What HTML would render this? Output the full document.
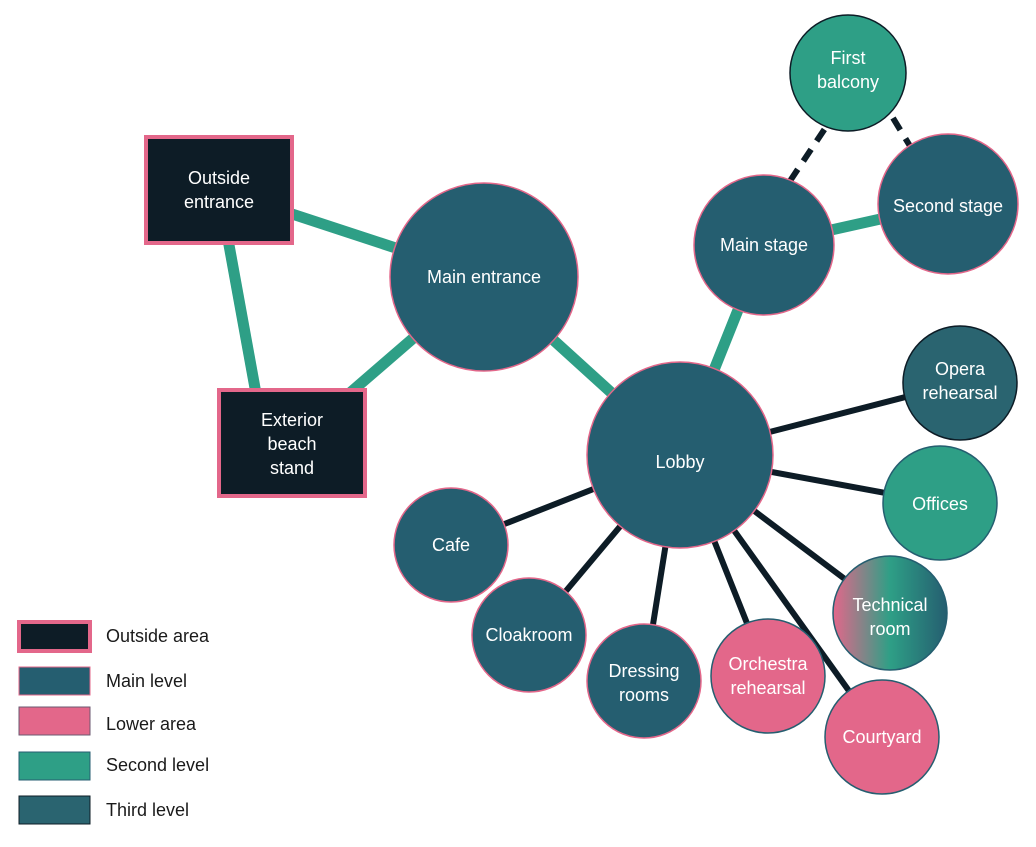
<!DOCTYPE html>
<html><head><meta charset="utf-8"><style>
html,body{margin:0;padding:0;background:#fff;}
svg text{font-family:"Liberation Sans",sans-serif;}
</style></head><body>
<svg width="1036" height="842" viewBox="0 0 1036 842" xmlns="http://www.w3.org/2000/svg">
<defs>
<linearGradient id="tg" x1="0" x2="1" y1="0" y2="0">
<stop offset="0" stop-color="#e3678a"/><stop offset="0.5" stop-color="#2e9f86"/><stop offset="1" stop-color="#255e70"/>
</linearGradient>
</defs>
<g stroke="#2e9f86" stroke-width="11" stroke-linecap="butt">
<line x1="219" y1="190" x2="484" y2="277"/>
<line x1="219" y1="190" x2="265" y2="443"/>
<line x1="292" y1="443" x2="484" y2="277"/>
<line x1="484" y1="277" x2="680" y2="455"/>
<line x1="680" y1="455" x2="764" y2="245"/>
<line x1="764" y1="245" x2="948" y2="204"/>
</g>
<g stroke="#0d1c26" stroke-width="6" stroke-dasharray="14,10">
<line x1="790" y1="181" x2="826" y2="127"/>
<line x1="893" y1="118" x2="910" y2="146"/>
</g>
<g stroke="#0d1c26" stroke-width="6">
<line x1="680" y1="455" x2="960" y2="383"/>
<line x1="680" y1="455" x2="940" y2="503"/>
<line x1="680" y1="455" x2="890" y2="613"/>
<line x1="680" y1="455" x2="882" y2="737"/>
<line x1="680" y1="455" x2="768" y2="676"/>
<line x1="680" y1="455" x2="644" y2="681"/>
<line x1="680" y1="455" x2="529" y2="635"/>
<line x1="680" y1="455" x2="451" y2="545"/>
</g>
<rect x="146" y="137" width="146" height="106" fill="#0d1c26" stroke="#e3678a" stroke-width="4"/>
<rect x="219" y="390" width="146" height="106" fill="#0d1c26" stroke="#e3678a" stroke-width="4"/>
<g stroke="#e3678a" stroke-width="1.5" fill="#255e70">
<circle cx="484" cy="277" r="94"/>
<circle cx="680" cy="455" r="93"/>
<circle cx="764" cy="245" r="70"/>
<circle cx="948" cy="204" r="70"/>
<circle cx="451" cy="545" r="57"/>
<circle cx="529" cy="635" r="57"/>
<circle cx="644" cy="681" r="57"/>
</g>
<g stroke="#0d1c26" stroke-width="1.5">
<circle cx="848" cy="73" r="58" fill="#2e9f86"/>
<circle cx="960" cy="383" r="57" fill="#2a6470"/>
<circle cx="940" cy="503" r="57" fill="#2e9f86" stroke="#255e70"/>
<circle cx="890" cy="613" r="57" fill="url(#tg)" stroke="#255e70"/>
<circle cx="768" cy="676" r="57" fill="#e3678a" stroke="#255e70"/>
<circle cx="882" cy="737" r="57" fill="#e3678a" stroke="#255e70"/>
</g>
<g fill="#fff" font-size="18" text-anchor="middle">
<text x="219" y="184">Outside</text><text x="219" y="208">entrance</text>
<text x="292" y="426">Exterior</text><text x="292" y="450">beach</text><text x="292" y="474">stand</text>
<text x="484" y="283">Main entrance</text>
<text x="680" y="468">Lobby</text>
<text x="764" y="251">Main stage</text>
<text x="948" y="212">Second stage</text>
<text x="848" y="64">First</text><text x="848" y="88">balcony</text>
<text x="960" y="375">Opera</text><text x="960" y="399">rehearsal</text>
<text x="940" y="510">Offices</text>
<text x="890" y="611">Technical</text><text x="890" y="635">room</text>
<text x="768" y="670">Orchestra</text><text x="768" y="694">rehearsal</text>
<text x="882" y="743">Courtyard</text>
<text x="644" y="677">Dressing</text><text x="644" y="701">rooms</text>
<text x="529" y="641">Cloakroom</text>
<text x="451" y="551">Cafe</text>
</g>
<rect x="19" y="622" width="71" height="29" fill="#0d1c26" stroke="#e3678a" stroke-width="4"/>
<rect x="19" y="667" width="71" height="28" fill="#255e70" stroke="#e3678a" stroke-width="1"/>
<rect x="19" y="707" width="71" height="28" fill="#e3678a" stroke="#6b5a70" stroke-width="1"/>
<rect x="19" y="752" width="71" height="28" fill="#2e9f86" stroke="#255e70" stroke-width="1"/>
<rect x="19" y="796" width="71" height="28" fill="#2a6470" stroke="#0d1c26" stroke-width="1"/>
<g fill="#1a1a1a" font-size="18">
<text x="106" y="642">Outside area</text>
<text x="106" y="687">Main level</text>
<text x="106" y="730">Lower area</text>
<text x="106" y="771">Second level</text>
<text x="106" y="816">Third level</text>
</g>
</svg>
</body></html>
